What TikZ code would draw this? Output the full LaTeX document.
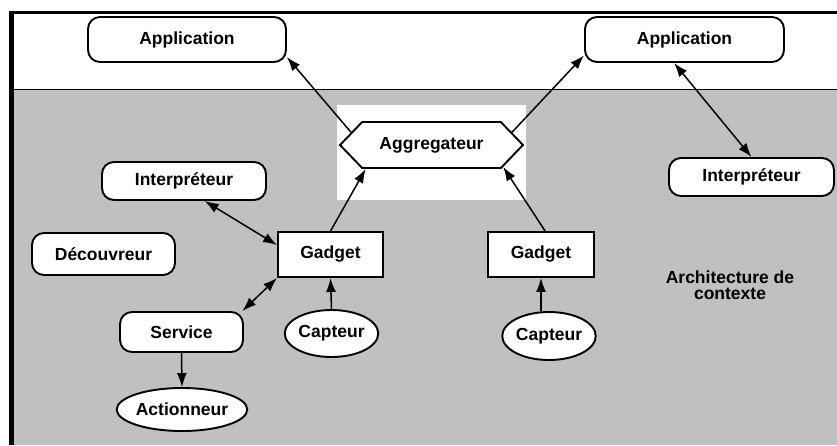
\documentclass[tikz,border=0pt]{standalone}
\usepackage{fontspec}
\setmainfont{Liberation Sans}
\usetikzlibrary{arrows.meta,shapes.symbols,shapes.geometric}
\definecolor{bggray}{HTML}{C0C0C0}
\begin{document}
\begin{tikzpicture}[x=1pt,y=-1pt,
  lbl/.style={font=\bfseries\fontsize{17.5}{16.5}\selectfont},
  rbox/.style={lbl,draw,line width=1.9pt,fill=white,rounded corners=12pt,inner sep=0pt},
  sqbox/.style={lbl,draw,line width=1.9pt,fill=white,inner sep=0pt},
  ell/.style={lbl,draw,ellipse,line width=1.9pt,fill=white,inner sep=0pt},
  arr/.style={-{Latex[length=14pt,width=10pt]},line width=1.5pt},
  darr/.style={{Latex[length=14pt,width=10pt]}-{Latex[length=14pt,width=10pt]},line width=1.5pt}]
\useasboundingbox (0,0) rectangle (837,445);
\fill[white] (0,0) rectangle (837,445);
\fill[bggray] (14,89) rectangle (837,445);
\fill[white] (337,105) rectangle (526,200);
\draw[line width=1.5pt] (14,89.5) -- (837,89.5);
\draw[line width=3pt] (9,12.5) -- (837,12.5);
\draw[line width=5pt] (11.5,11) -- (11.5,445);

\node[rbox,minimum width=198pt,minimum height=45pt] (appL) at (187,39.5) {Application};
\node[rbox,minimum width=199pt,minimum height=45pt] (appR) at (684.5,39.5) {Application};
\node[lbl,draw,line width=1.9pt,fill=white,inner sep=0pt,signal,signal to=west and east,
      signal pointer angle=92,minimum width=183pt,minimum height=46pt] (agg) at (431.5,145) {Aggregateur};
\node[rbox,minimum width=164pt,minimum height=38pt] (intL) at (184,181) {Interpréteur};
\node[rbox,minimum width=165pt,minimum height=38pt] (intR) at (751.5,177) {Interpréteur};
\node[sqbox,minimum width=105pt,minimum height=45pt] (gadL) at (330.5,254.5) {Gadget};
\node[sqbox,minimum width=106pt,minimum height=45pt] (gadR) at (541,254.5) {Gadget};
\node[rbox,minimum width=143pt,minimum height=42pt] (dec) at (103.5,254) {Découvreur};
\node[rbox,minimum width=123pt,minimum height=40pt] (serv) at (181.5,332) {Service};
\node[ell,minimum width=81pt,minimum height=47pt] (capL) at (331.5,333.5) {Capteur};
\node[ell,minimum width=82pt,minimum height=48pt] (capR) at (549,336) {Capteur};
\node[ell,minimum width=106pt,minimum height=43pt] (act) at (182,409.5) {Actionneur};
\node[lbl,align=center,inner sep=0pt] (arch) at (730,285) {Architecture de\\contexte};

\draw[arr] (agg.171) -- (appL.-10.4);
\draw[arr] (agg.9) -- (appR.189);
\draw[darr] (appR.-114) -- (intR.north);
\draw[darr] (intL.-44) -- (gadL.170);
\draw[arr] (gadL.north) -- (agg.-160);
\draw[arr] (gadR.80) -- (agg.-17);
\draw[darr] (serv.19.5) -- (gadL.south west);
\draw[arr] (capL.north) -- (gadL.south);
\draw[arr] (capR.north -| gadR.south) -- (gadR.south);
\draw[arr] (serv.south) -- (act.north);
\end{tikzpicture}
\end{document}
